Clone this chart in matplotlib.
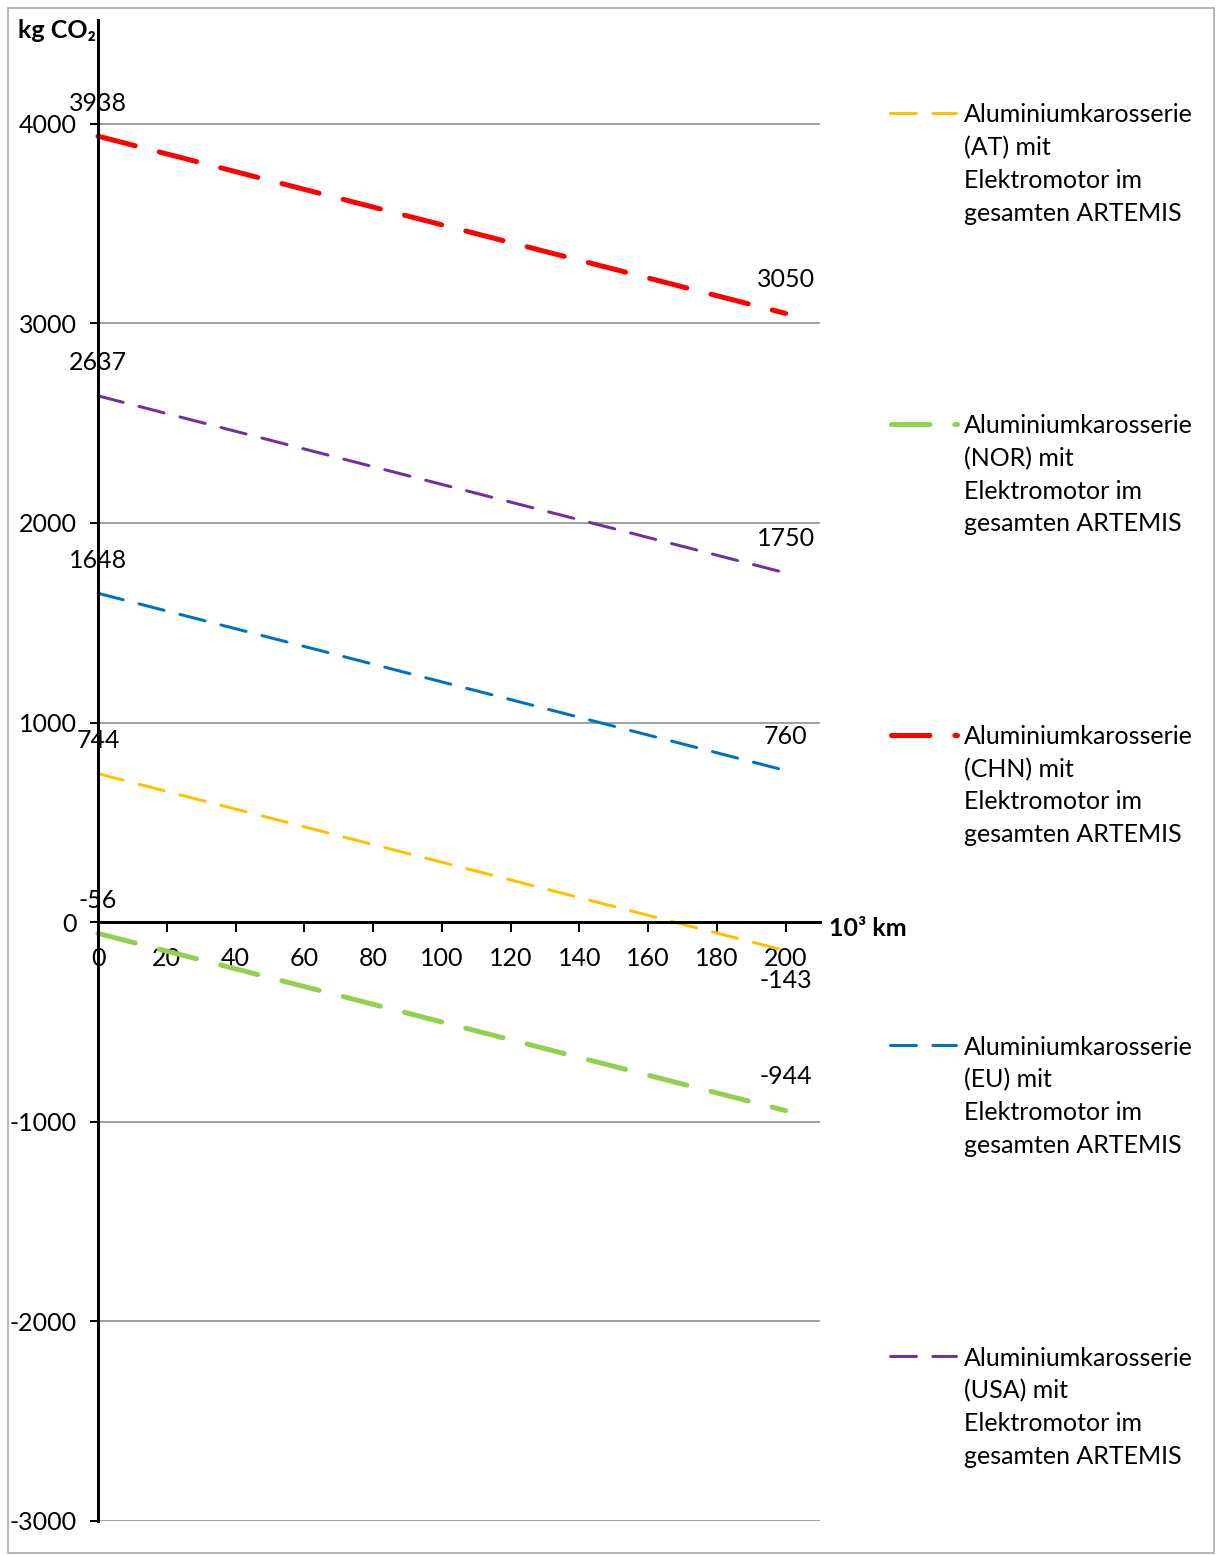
import matplotlib
matplotlib.use("Agg")
import matplotlib.pyplot as plt
from matplotlib.lines import Line2D
from matplotlib.patches import Rectangle

# Series: CO2 balance (kg) at 0 and 200 thousand km
km = [0, 200]
series_names = ["AT", "NOR", "CHN", "EU", "USA"]
at_values = [744, -143]
nor_values = [-56, -944]
chn_values = [3938, 3050]
eu_values = [1648, 760]
usa_values = [2637, 1750]

x_ticks = [0, 20, 40, 60, 80, 100, 120, 140, 160, 180, 200]
y_ticks = [-3000, -2000, -1000, 0, 1000, 2000, 3000, 4000]

label_lines = ["Aluminiumkarosserie", "({}) mit", "Elektromotor im", "gesamten ARTEMIS"]

colors = {"AT": "#FFC000", "NOR": "#92D050", "CHN": "#FF0000",
          "EU": "#0070C0", "USA": "#7030A0"}
values = {"AT": at_values, "NOR": nor_values, "CHN": chn_values,
          "EU": eu_values, "USA": usa_values}
thick = {"NOR", "CHN"}

plt.rcParams["font.family"] = ["Lato", "DejaVu Sans"]
plt.rcParams["lines.scale_dashes"] = False
FS = 18

W, H = 1217, 1555
PT = 72 / 100.0  # points per pixel at dpi 100

YMIN, YMAX = -3000, 4520
PX_PER_UNIT = 0.1996
ax_h = (YMAX - YMIN) * PX_PER_UNIT

fig = plt.figure(figsize=(W / 100, H / 100), dpi=100)
ax = fig.add_axes([98 / W, 1 - 1521 / H, 722 / W, ax_h / H])


def style(name):
    if name in thick:
        return dict(lw=5 * PT, dashes=(38.4 * PT, 24.9 * PT))
    return dict(lw=3 * PT, dashes=(26 * PT, 16.3 * PT))


for name in series_names:
    st = style(name)
    ax.plot(km, values[name], color=colors[name], lw=st["lw"],
            dashes=st["dashes"], dash_capstyle="round", solid_capstyle="round",
            zorder=3, clip_on=False)
    v0, v1 = values[name]
    ax.annotate(f"{v0}", (km[0], v0), xytext=(0, 33 * PT), textcoords="offset points",
                ha="center", va="center", fontsize=FS, zorder=5)
    off = -30 if name == "AT" else 34
    ax.annotate(f"{v1}", (km[1], v1), xytext=(0, off * PT), textcoords="offset points",
                ha="center", va="center", fontsize=FS, zorder=5)

ax.set_xlim(0, 210)
ax.set_ylim(YMIN, YMAX)
ax.set_xticks(x_ticks)
ax.set_xticklabels([str(t) for t in x_ticks])
ax.set_yticks(y_ticks)
ax.set_yticklabels([str(t) for t in y_ticks])

for s in ["top", "right"]:
    ax.spines[s].set_visible(False)
ax.spines["left"].set_linewidth(3 * PT)
ax.spines["bottom"].set_linewidth(3 * PT)
ax.spines["bottom"].set_position(("data", 0))
ax.spines["left"].set_zorder(4)
ax.spines["bottom"].set_zorder(4)

ax.tick_params(axis="y", direction="out", length=8 * PT, width=2 * PT,
               pad=9.5, labelsize=FS)
ax.tick_params(axis="x", direction="out", length=10 * PT, width=2 * PT,
               pad=10.5, labelsize=FS)
ax.yaxis.grid(True, color="#8c8c8c", lw=1.6 * PT)
ax.set_axisbelow(True)
ax.patch.set_alpha(0)


def fx(px):
    return px / W


def fy(py):
    return 1 - py / H


fig.text(fx(18), fy(38), "kg CO₂", fontsize=FS, fontweight="bold",
         ha="left", va="baseline")
fig.text(fx(829), fy(928), "10³ km", fontsize=FS, fontweight="bold",
         ha="left", va="center")

# Legend entries on the right
for i, name in enumerate(series_names):
    yc = 113 + i * 310.75
    st = style(name)
    x0, x1 = (890.5, 957.0) if name in thick else (889.5, 955.5)
    fig.add_artist(Line2D([fx(x0), fx(x1)], [fy(yc), fy(yc)], color=colors[name],
                          lw=st["lw"], dashes=st["dashes"],
                          dash_capstyle="round", solid_capstyle="round"))
    for k, line in enumerate(label_lines):
        fig.text(fx(964), fy(yc + 2 + k * 32.7), line.format(name), fontsize=FS,
                 ha="left", va="center")

fig.add_artist(Rectangle((fx(8), fy(1553)), fx(1214) - fx(8), fy(8) - fy(1553),
                         transform=fig.transFigure, fill=False,
                         edgecolor="#a6a6a6", lw=1.6 * PT))

fig.savefig("out.png", dpi=100)
